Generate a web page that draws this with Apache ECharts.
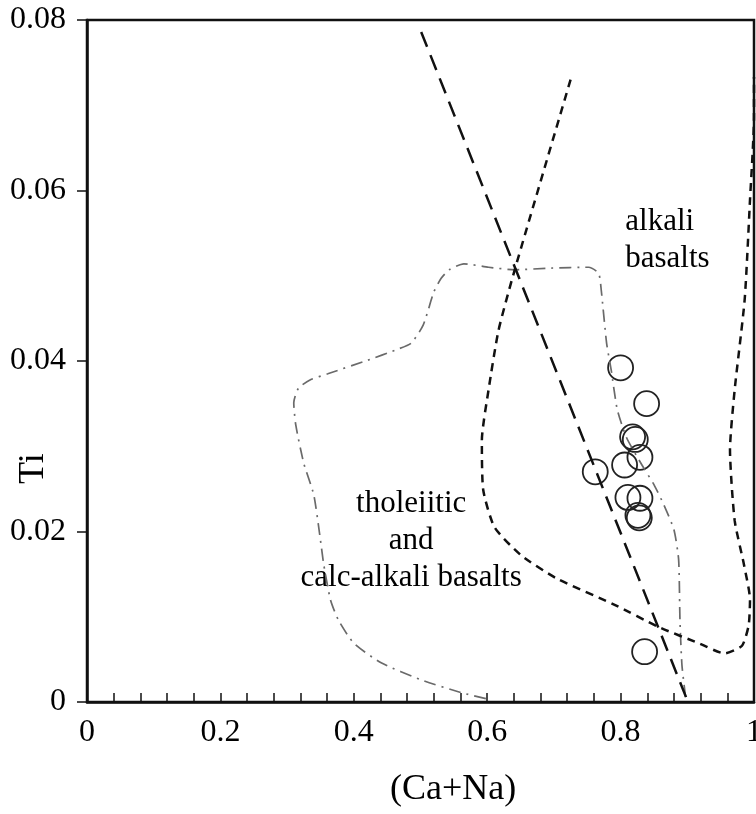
<!DOCTYPE html>
<html>
<head>
<meta charset="utf-8">
<script src="https://cdn.jsdelivr.net/npm/echarts@6/dist/echarts.min.js"></script>
<style>
  body { margin: 0; padding: 0; background: #fff; }
  #chart { width: 756px; height: 814px; }
</style>
</head>
<body>
<div id="chart"></div>
<script>
  // sample points (Ca+Na vs Ti)
  var caNa = [0.800, 0.839, 0.818, 0.822, 0.829, 0.806, 0.762, 0.811, 0.829, 0.826, 0.828, 0.836];
  var ti = [0.0392, 0.0350, 0.0311, 0.0308, 0.0287, 0.0278, 0.0270, 0.0240, 0.0239, 0.0219, 0.0216, 0.0059];

  // long dashed straight boundary
  var longDashX = [0.501, 0.901];
  var longDashY = [0.0786, 0.0];

  // short dashed boundary (alkali basalt field)
  var shortDashX = [0.725, 0.642, 0.617, 0.602, 0.592, 0.594, 0.611, 0.651, 0.704, 0.791, 0.857, 0.917, 0.956, 0.982, 0.992, 0.994, 0.985, 0.971, 0.964, 0.971, 0.986, 0.994, 1.0, 1.0];
  var shortDashY = [0.0730, 0.0509, 0.0436, 0.0366, 0.0307, 0.0249, 0.0205, 0.0172, 0.0145, 0.0114, 0.0088, 0.0069, 0.0057, 0.0066, 0.0090, 0.0120, 0.0161, 0.0213, 0.0296, 0.0366, 0.0472, 0.0589, 0.0686, 0.0733];

  // dash-dot boundary (tholeiitic and calc-alkali field)
  var dashDotX = [0.598, 0.561, 0.501, 0.441, 0.400, 0.377, 0.365, 0.355, 0.350, 0.340, 0.325, 0.313, 0.310, 0.317, 0.335, 0.361, 0.421, 0.463, 0.486, 0.504, 0.520, 0.531, 0.543, 0.565, 0.602, 0.641, 0.696, 0.752, 0.767, 0.771, 0.779, 0.786, 0.795, 0.809, 0.832, 0.850, 0.865, 0.880, 0.887, 0.889, 0.892, 0.898];
  var dashDotY = [0.0004, 0.0011, 0.0026, 0.0046, 0.0069, 0.0096, 0.0120, 0.0161, 0.0190, 0.0243, 0.0280, 0.0325, 0.0351, 0.0368, 0.0378, 0.0385, 0.0401, 0.0413, 0.0421, 0.0442, 0.0481, 0.0497, 0.0507, 0.0514, 0.0510, 0.0507, 0.0509, 0.0510, 0.0503, 0.0483, 0.0421, 0.0389, 0.0343, 0.0310, 0.0278, 0.0255, 0.0231, 0.0202, 0.0167, 0.0096, 0.0043, 0.0002];

  // field names
  var fieldNames = ['alkali\nbasalts', 'tholeiitic\nand\ncalc-alkali basalts'];
  var fieldX = [0.807, 0.486];
  var fieldY = [0.0541, 0.0189];
  var fieldAlign = ['left', 'center'];

  var xLabels = ['0', '0.2', '0.4', '0.6', '0.8', '1'];
  var yLabels = ['0', '0.02', '0.04', '0.06', '0.08'];

  function pairs(xs, ys) {
    var out = [];
    for (var i = 0; i < xs.length; i++) out.push([xs[i], ys[i]]);
    return out;
  }

  var font = '"Liberation Serif", "Times New Roman", serif';
  var chart = echarts.init(document.getElementById('chart'));

  var option = {
    animation: false,
    backgroundColor: '#fff',
    grid: {
      left: 87, top: 20, right: 2, bottom: 112,
      outerBoundsMode: 'none', containLabel: false,
      show: true, borderColor: '#111', borderWidth: 2.5, backgroundColor: 'transparent'
    },
    xAxis: {
      type: 'value', min: 0, max: 1, interval: 0.2,
      axisLine: { show: true, lineStyle: { color: '#111', width: 2.5 } },
      axisTick: { show: true, inside: true, length: 9, lineStyle: { color: '#111', width: 1.5 } },
      minorTick: { show: true, splitNumber: 5, length: 9, lineStyle: { color: '#111', width: 1.5 } },
      splitLine: { show: false },
      axisLabel: {
        margin: 15, color: '#000', fontFamily: font, fontSize: 32,
        formatter: function (v) { return xLabels[Math.round(v / 0.2)]; }
      }
    },
    yAxis: {
      type: 'value', min: 0, max: 0.08, interval: 0.02,
      axisLine: { show: true, lineStyle: { color: '#111', width: 2.5 } },
      axisTick: { show: true, inside: false, length: 10, lineStyle: { color: '#111', width: 1.5 } },
      splitLine: { show: false },
      axisLabel: {
        margin: 21, color: '#000', fontFamily: font, fontSize: 32,
        formatter: function (v) { return yLabels[Math.round(v / 0.02)]; }
      }
    },
    graphic: [
      { type: 'text', left: 390, top: 772, style: { text: '(Ca+Na)', font: '36px ' + font, fill: '#000' } },
      { type: 'text', x: 16, y: 484, rotation: Math.PI / 2,
        style: { text: 'Ti', font: '36px ' + font, fill: '#000' } }
    ],
    series: [
      {
        name: 'dashdot', type: 'line', data: pairs(dashDotX, dashDotY),
        symbol: 'none', smooth: 0.2,
        lineStyle: { color: '#6a6a6a', width: 1.7, type: [12, 6, 2, 6] }
      },
      {
        name: 'longdash', type: 'line', data: pairs(longDashX, longDashY),
        symbol: 'none',
        lineStyle: { color: '#111', width: 2.5, type: [16, 9] }
      },
      {
        name: 'shortdash', type: 'line', data: pairs(shortDashX, shortDashY),
        symbol: 'none', smooth: 0.2,
        lineStyle: { color: '#111', width: 2.5, type: [8, 6] }
      },
      {
        name: 'samples', type: 'scatter', data: pairs(caNa, ti),
        symbol: 'circle', symbolSize: 25,
        itemStyle: { color: 'rgba(0,0,0,0)', borderColor: '#222', borderWidth: 1.8, opacity: 1 }
      },
      {
        name: 'fields', type: 'scatter', symbolSize: 0, silent: true,
        data: fieldNames.map(function (n, i) {
          return {
            name: n, value: [fieldX[i], fieldY[i]],
            label: { align: fieldAlign[i] }
          };
        }),
        label: {
          show: true, position: 'inside', formatter: '{b}', color: '#000', opacity: 1,
          textBorderWidth: 0, fontFamily: font, fontSize: 31, lineHeight: 37, verticalAlign: 'middle'
        }
      }
    ]
  };
  chart.setOption(option);
</script>
</body>
</html>
